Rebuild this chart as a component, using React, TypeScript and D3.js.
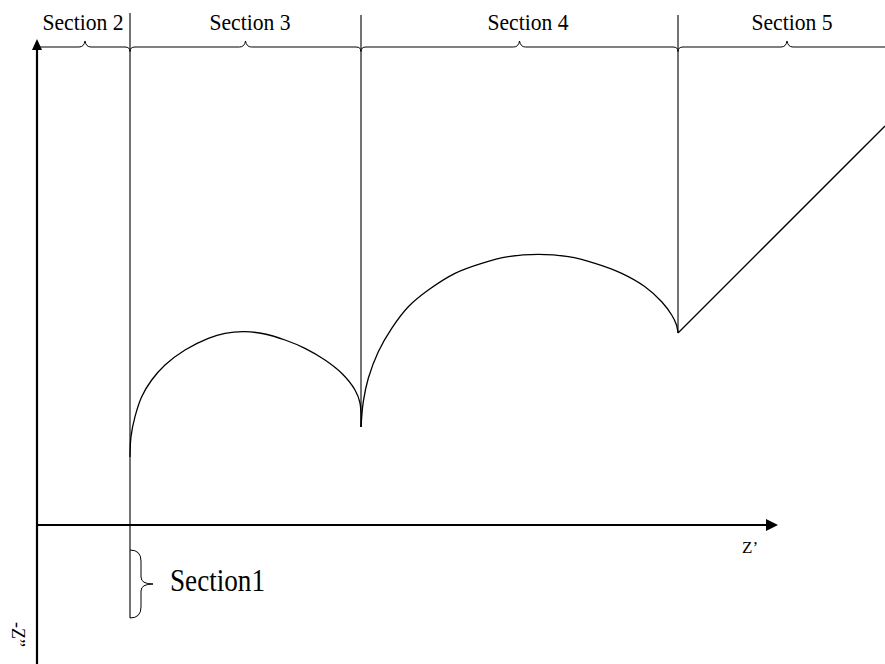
import React from 'react';
import * as d3 from 'd3';

// Data units: z' along the horizontal axis, z'' along the vertical axis (1 unit = 10 px)
const sectionNames = ['Section 2', 'Section 3', 'Section 4', 'Section 5'];
const sectionBounds = [0.3, 9.3, 32.4, 64.1, 85.9];
const sectionLabelX = [4.6, 21.3, 49.1, 75.5];
const dividerX = [9.3, 32.4, 64.1];
const dividerTop = [51.2, 51.0, 51.0];
const dividerBottom = [-9.3, 9.8, 19.2];
const braceLevel = 47.8;
const labelLevel = 49.5;
const section1Range = [-2.5, -9.3];

const section3: [number, number][] = [
  [9.3, 6.8], [9.4, 8.83], [9.8, 10.83], [10.47, 12.83], [11.47, 14.5], [12.8, 16.0],
  [14.8, 17.5], [17.13, 18.67], [18.8, 19.17], [20.8, 19.33], [22.8, 19.1], [24.8, 18.5],
  [26.8, 17.67], [28.8, 16.5], [30.47, 15.17], [31.8, 13.5], [32.3, 12.2], [32.4, 9.8],
];
const section4: [number, number][] = [
  [32.4, 9.8], [32.63, 12.33], [33.13, 14.67], [34.13, 17.33], [35.47, 19.67], [37.13, 21.83],
  [39.13, 23.5], [41.8, 25.17], [44.47, 26.17], [47.13, 26.83], [50.13, 27.07], [53.13, 26.83],
  [55.8, 26.17], [58.47, 25.17], [60.8, 23.83], [62.47, 22.33], [63.47, 21.0], [63.95, 20.0], [64.1, 19.2],
];
const section5: [number, number][] = [[64.1, 19.2], [84.8, 39.9]];

const xAxisEnd = 74.1;
const yAxisTop = 48.6;
const yAxisBottom = -13.9;

export default function App() {
  const W = 885, H = 664;
  const x = d3.scaleLinear().domain([0, 10]).range([37, 137]);
  const y = d3.scaleLinear().domain([0, 10]).range([525, 425]);
  const line = d3.line<[number, number]>().x(d => x(d[0])).y(d => y(d[1])).curve(d3.curveCatmullRom.alpha(0.5));
  const straight = d3.line<[number, number]>().x(d => x(d[0])).y(d => y(d[1]));

  const y0 = y(braceLevel);
  const bracePath = (xa: number, xb: number, first: boolean) => {
    const a = x(xa), b = x(xb), m = (a + b) / 2;
    const p = d3.path();
    if (first) {
      p.moveTo(a, y0);
    } else {
      p.moveTo(a, y0 + 4.5);
      p.quadraticCurveTo(a, y0, a + 5, y0);
    }
    p.lineTo(m - 6, y0);
    p.quadraticCurveTo(m - 1, y0, m, y0 - 6);
    p.quadraticCurveTo(m + 1, y0, m + 6, y0);
    p.lineTo(b - 5, y0);
    p.quadraticCurveTo(b, y0, b, y0 + 4.5);
    return p.toString();
  };

  const vx = x(dividerX[0]);
  const ya = y(section1Range[0]), yb = y(section1Range[1]);
  const ym = (ya + yb) / 2;
  const bx = vx + 11, tip = vx + 23;
  const vb = d3.path();
  vb.moveTo(vx, ya);
  vb.quadraticCurveTo(bx, ya, bx, ya + 11);
  vb.lineTo(bx, ym - 7);
  vb.quadraticCurveTo(bx, ym, tip, ym);
  vb.quadraticCurveTo(bx, ym, bx, ym + 7);
  vb.lineTo(bx, yb - 11);
  vb.quadraticCurveTo(bx, yb, vx, yb);

  const font = "'Liberation Serif', 'Times New Roman', serif";
  const ox = x(0), oy = y(0);
  const xt = x(xAxisEnd), yt = y(yAxisTop);

  return (
    <svg width={W} height={H} style={{ position: 'absolute', left: 0, top: 0, background: '#fff' }}>
      {/* y axis */}
      <line x1={ox} y1={y(yAxisBottom)} x2={ox} y2={yt + 10} stroke="#000" strokeWidth={2.2} />
      <path d={`M${ox},${yt} L${ox + 5},${yt + 11} L${ox - 5},${yt + 11} Z`} fill="#000" />
      {/* x axis */}
      <line x1={ox} y1={oy} x2={xt - 11} y2={oy} stroke="#000" strokeWidth={1.8} />
      <path d={`M${xt},${oy} L${xt - 12},${oy - 6} L${xt - 12},${oy + 6} Z`} fill="#000" />

      {/* dividers */}
      {dividerX.map((d, i) => (
        <line key={i} x1={x(d)} x2={x(d)} y1={y(dividerTop[i])} y2={y(dividerBottom[i])} stroke="#000" strokeWidth={1.1} />
      ))}

      {/* top braces */}
      {sectionNames.map((s, i) => (
        <path key={s} d={bracePath(sectionBounds[i], sectionBounds[i + 1], i === 0)} fill="none" stroke="#000" strokeWidth={1} />
      ))}
      {sectionNames.map((s, i) => (
        <text key={s} x={x(sectionLabelX[i])} y={y(labelLevel)} textAnchor="middle" fontFamily={font} fontSize={23}
          textLength={81} lengthAdjust="spacingAndGlyphs" fill="#000">{s}</text>
      ))}

      {/* curves */}
      <path d={line(section3) || ''} fill="none" stroke="#000" strokeWidth={1.3} />
      <path d={line(section4) || ''} fill="none" stroke="#000" strokeWidth={1.3} />
      <path d={straight(section5) || ''} fill="none" stroke="#000" strokeWidth={1.3} />

      {/* section 1 brace */}
      <path d={vb.toString()} fill="none" stroke="#000" strokeWidth={1} />
      <text x={tip + 17} y={ym + 7} fontFamily={font} fontSize={32} textLength={95} lengthAdjust="spacingAndGlyphs" fill="#000">Section1</text>

      {/* axis labels */}
      <text x={742} y={553} fontFamily={font} fontSize={17} fill="#000">Z’</text>
      <text transform="translate(12,622) rotate(90)" fontFamily={font} fontSize={18} fill="#000">-Z”</text>
    </svg>
  );
}
